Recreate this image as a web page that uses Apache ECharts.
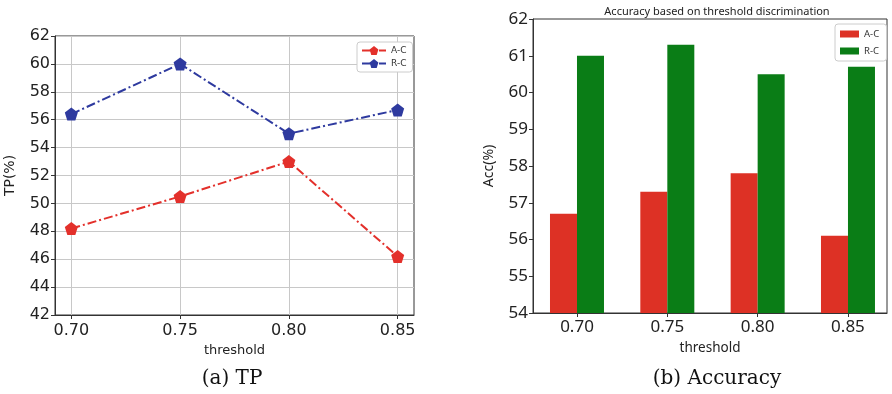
<!DOCTYPE html>
<html><head><meta charset="utf-8">
<script src="https://cdn.jsdelivr.net/npm/echarts@6/dist/echarts.min.js"></script>
<style>html,body{margin:0;padding:0;background:#fff}#c{width:892px;height:394px}</style>
</head><body><div id="c"></div>
<script>
const thresholds = [0.70, 0.75, 0.80, 0.85];
const tickLabels = ['0.70', '0.75', '0.80', '0.85'];
const tpAC = [48.2, 50.5, 53.0, 46.2];
const tpRC = [56.4, 60.0, 55.0, 56.7];
const accAC = [56.7, 57.3, 57.8, 56.1];
const accRC = [61.0, 61.3, 60.5, 60.7];
const idx = [0, 1, 2, 3];

const pent = 'path://M0,-1 L0.951,-0.309 L0.588,0.809 L-0.588,0.809 L-0.951,-0.309 Z';
const RED_L = '#e3302b', BLUE_L = '#2e3a9f', RED_B = '#dd3125', GREEN_B = '#0a7d16';
const chart = echarts.init(document.getElementById('c'), null, {renderer: 'canvas'});
const lf = 'DejaVu Sans', rf = 'Noto Sans';
chart.setOption({
  animation: false,
  backgroundColor: '#fff',
  title: [
    {text: 'Accuracy based on threshold discrimination', left: 712, top: 1, textAlign: 'center',
     textStyle: {fontFamily: rf, fontSize: 11, fontWeight: 'normal', color: '#222'}},
    {text: '(a) TP', left: 227, top: 364, textAlign: 'center',
     textStyle: {fontFamily: 'DejaVu Serif', fontSize: 20, fontWeight: 'normal', color: '#111'}},
    {text: '(b) Accuracy', left: 712, top: 364, textAlign: 'center',
     textStyle: {fontFamily: 'DejaVu Serif', fontSize: 20, fontWeight: 'normal', color: '#111'}}
  ],
  grid: [
    {left: 55, right: 892 - 414, top: 36, bottom: 394 - 315, show: true, borderColor: '#333', borderWidth: 1},
    {left: 533, right: 892 - 887, top: 19, bottom: 394 - 313, show: true, borderColor: '#333', borderWidth: 1}
  ],
  legend: [
    {data: ['A-C', 'R-C'], orient: 'vertical', left: 357, top: 42, itemGap: 4,
     itemWidth: 24, itemHeight: 11, padding: [4, 6, 4, 4], backgroundColor: '#fff',
     borderColor: '#ccc', borderWidth: 1, borderRadius: 3,
     textStyle: {fontFamily: lf, fontSize: 9, color: '#333'}},
    {data: ['A-C ', 'R-C '], orient: 'vertical', left: 835, top: 24, itemGap: 7,
     itemWidth: 19, itemHeight: 7, padding: [5, 5, 5, 5], backgroundColor: '#fff',
     borderColor: '#ccc', borderWidth: 1, borderRadius: 3, icon: 'rect',
     textStyle: {fontFamily: rf, fontSize: 9.5, color: '#333'}}
  ],
  xAxis: [
    {gridIndex: 0, type: 'value', min: 0.6925, max: 0.8575,
     name: 'threshold', nameLocation: 'middle', nameGap: 27,
     nameTextStyle: {fontFamily: lf, fontSize: 13, color: '#222'},
     axisLine: {onZero: false, lineStyle: {color: '#333'}},
     axisTick: {show: true, length: 4, customValues: thresholds, lineStyle: {color: '#333'}},
     axisLabel: {customValues: thresholds, formatter: v => tickLabels[thresholds.indexOf(Math.round(v * 100) / 100)] || '',
       fontFamily: lf, fontSize: 16, color: '#222', margin: 8},
     splitLine: {show: true, lineStyle: {color: '#c8c8c8', width: 1}}},
    {gridIndex: 1, type: 'value', min: -0.487, max: 3.432,
     name: 'threshold', nameLocation: 'middle', nameGap: 28,
     nameTextStyle: {fontFamily: rf, fontSize: 13.5, color: '#222'},
     axisLine: {onZero: false, lineStyle: {color: '#333'}},
     axisTick: {show: true, length: 4, customValues: idx, lineStyle: {color: '#333'}},
     axisLabel: {customValues: idx, formatter: v => tickLabels[v] || '',
       fontFamily: rf, fontSize: 17, color: '#222', margin: 6},
     splitLine: {show: false}}
  ],
  yAxis: [
    {gridIndex: 0, type: 'value', min: 42, max: 62, interval: 2,
     name: 'TP(%)', nameLocation: 'middle', nameGap: 38,
     nameTextStyle: {fontFamily: lf, fontSize: 14, color: '#222'},
     axisLine: {show: true, onZero: false, lineStyle: {color: '#333'}},
     axisTick: {show: true, length: 4, lineStyle: {color: '#333'}},
     axisLabel: {fontFamily: lf, fontSize: 16, color: '#222', margin: 5},
     splitLine: {show: true, lineStyle: {color: '#c8c8c8', width: 1}}},
    {gridIndex: 1, type: 'value', min: 54, max: 62, interval: 1,
     name: 'Acc(%)', nameLocation: 'middle', nameGap: 37,
     nameTextStyle: {fontFamily: rf, fontSize: 14, color: '#222'},
     axisLine: {show: true, onZero: false, lineStyle: {color: '#333'}},
     axisTick: {show: true, length: 4, lineStyle: {color: '#333'}},
     axisLabel: {fontFamily: rf, fontSize: 17, color: '#222', margin: 5},
     splitLine: {show: false}}
  ],
  series: [
    {name: 'A-C', type: 'line', xAxisIndex: 0, yAxisIndex: 0,
     data: thresholds.map((t, i) => [t, tpAC[i]]),
     symbol: pent, symbolSize: 13, color: RED_L,
     lineStyle: {width: 2, type: [9, 3, 2, 3], color: RED_L}, itemStyle: {color: RED_L}},
    {name: 'R-C', type: 'line', xAxisIndex: 0, yAxisIndex: 0,
     data: thresholds.map((t, i) => [t, tpRC[i]]),
     symbol: pent, symbolSize: 13, color: BLUE_L,
     lineStyle: {width: 2, type: [9, 3, 2, 3], color: BLUE_L}, itemStyle: {color: BLUE_L}},
    {name: 'A-C ', type: 'bar', xAxisIndex: 1, yAxisIndex: 1,
     data: idx.map((i) => [i, accAC[i]]), barWidth: 27, barGap: '0%',
     color: RED_B, itemStyle: {color: RED_B}},
    {name: 'R-C ', type: 'bar', xAxisIndex: 1, yAxisIndex: 1,
     data: idx.map((i) => [i, accRC[i]]), barWidth: 27, barGap: '0%',
     color: GREEN_B, itemStyle: {color: GREEN_B}}
  ]
});
</script></body></html>
